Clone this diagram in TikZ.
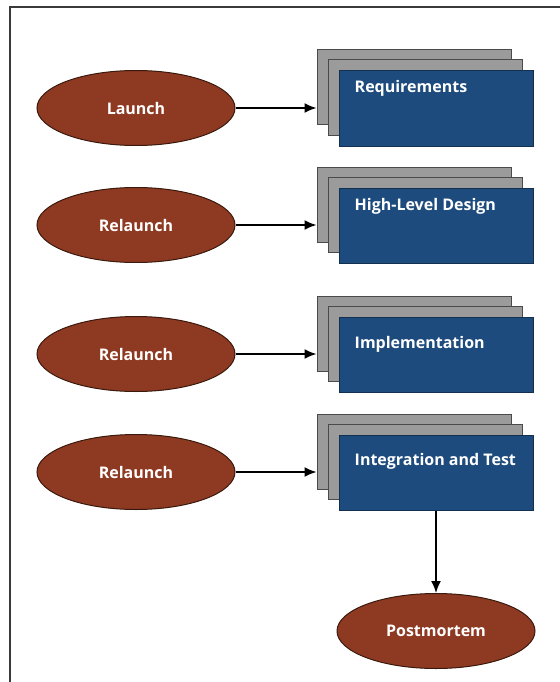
\documentclass[tikz,border=0pt]{standalone}
\usepackage{fontspec}
\setmainfont{Open Sans}
\usetikzlibrary{shapes.geometric,positioning,arrows.meta}

\definecolor{phasered}{HTML}{8E3A22}
\definecolor{phaseredline}{HTML}{3B1A0E}
\definecolor{stageblue}{HTML}{1E4B7D}
\definecolor{stageblueline}{HTML}{13304F}
\definecolor{stagegray}{HTML}{9B9B9B}
\definecolor{stagegrayline}{HTML}{4A4A4A}
\definecolor{framegray}{HTML}{3A3A3A}

\tikzset{
  phase/.style={ellipse, draw=phaseredline, line width=1pt, fill=phasered,
    minimum width=198pt, minimum height=75pt, inner sep=0pt,
    text=white, font=\fontsize{16}{19}\selectfont\bfseries},
  stage/.style={rectangle, draw=stageblueline, line width=1pt, fill=stageblue,
    minimum width=194pt, minimum height=75pt, inner sep=0pt},
  stageback/.style={rectangle, draw=stagegrayline, line width=1pt, fill=stagegray,
    minimum width=194pt, minimum height=75pt, inner sep=0pt},
  stagetext/.style={anchor=west, inner sep=0pt, text=white,
    font=\fontsize{16}{19}\selectfont\bfseries},
  link/.style={line width=1.7pt, -{Latex[length=12pt,width=10pt]}}
}

\begin{document}
\begin{tikzpicture}[x=1pt,y=-1pt]
        \useasboundingbox (0,0) rectangle (559,682);

        % cadre (coupe a droite et en bas)
        \draw[framegray, line width=2.5pt] (10,690) -- (10,7) -- (570,7);

        % phases
        \node[phase] (launch) at (136,108) {Launch};
        \node[phase] (relaunchA) at (136,225) {Relaunch};
        \node[phase] (relaunchB) at (136,354) {Relaunch};
        \node[phase] (relaunchC) at (136,472) {Relaunch};
        \node[phase] (post) at (436,631) {Postmortem};

        % piles de documents
        \node[stageback] (reqB) at (414,87.5) {};
        \node[stageback] (reqM) at (425,97.5) {};
        \node[stage] (req) at (436,108.5) {};
        \node[stagetext] at ([shift={(16,18)}]req.north west) {Requirements};

        \node[stageback] (hldB) at (414,204.5) {};
        \node[stageback] (hldM) at (425,214.5) {};
        \node[stage] (hld) at (436,225.5) {};
        \node[stagetext] at ([shift={(16,19)}]hld.north west) {High-Level Design};

        \node[stageback] (implB) at (414,333.5) {};
        \node[stageback] (implM) at (425,343.5) {};
        \node[stage] (impl) at (436,354.5) {};
        \node[stagetext] at ([shift={(16,28)}]impl.north west) {Implementation};

        \node[stageback] (testB) at (414,451.5) {};
        \node[stageback] (testM) at (425,461.5) {};
        \node[stage] (test) at (436,472.5) {};
        \node[stagetext] at ([shift={(16,27)}]test.north west) {Integration and Test};

        % fleches
        \draw[link] (launch.east) -- (launch.east -| reqB.west);
        \draw[link] (relaunchA.east) -- (relaunchA.east -| hldB.west);
        \draw[link] (relaunchB.east) -- (relaunchB.east -| implB.west);
        \draw[link] (relaunchC.east) -- (relaunchC.east -| testB.west);
        \draw[link] (test.south) -- (post.north);
\end{tikzpicture}
\end{document}
